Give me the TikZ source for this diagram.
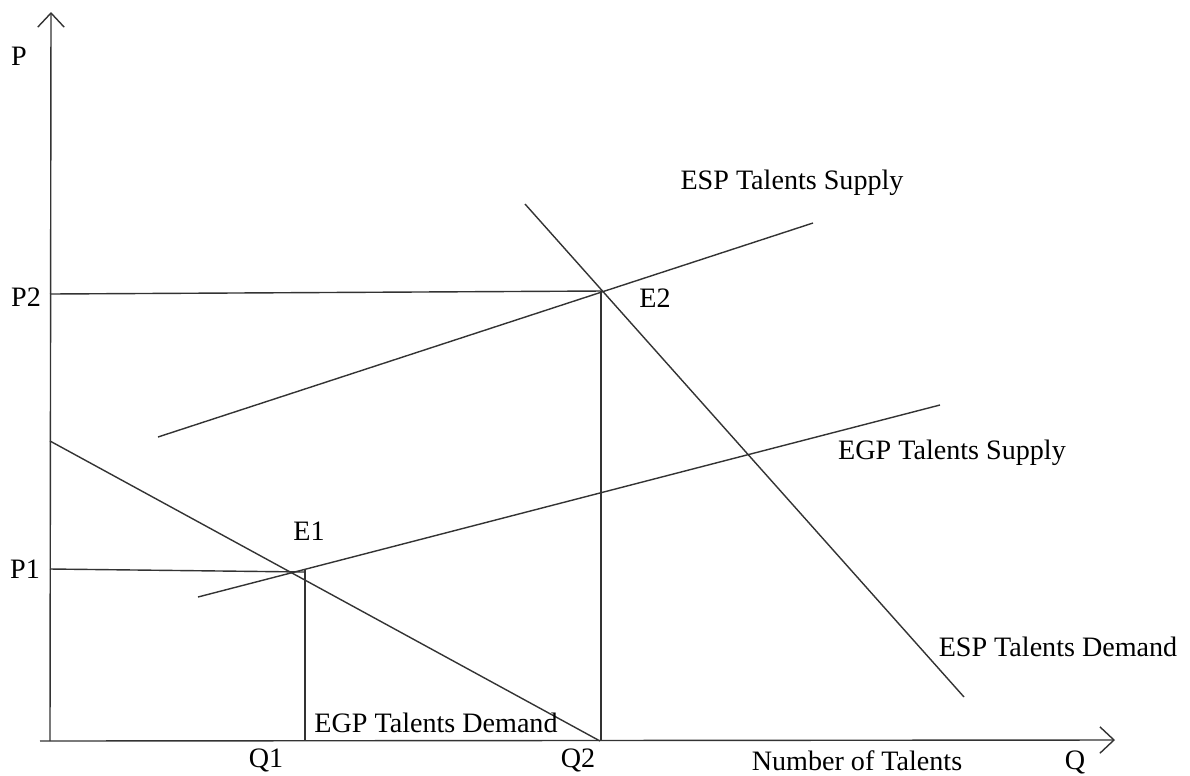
\documentclass[tikz,border=0pt]{standalone}
\usepackage{fontspec}
\setmainfont{Liberation Serif}
\usetikzlibrary{calc,positioning,arrows.meta}

\begin{document}
\begin{tikzpicture}[x=0.02cm,y=-0.02cm,
    curve/.style={draw=black!80,line width=0.8pt},
    axis/.style={curve,-{Straight Barb[length=8pt,width=15pt]}},
    lab/.style={font=\fontsize{16}{19}\selectfont,inner sep=0pt}]
    \useasboundingbox (0,0) rectangle (1190,775);

    % axes
    \coordinate (O) at (50,741);
    \coordinate (ytop) at (51,12);
    \coordinate (xend) at (1115,740);
    \draw[axis] (O) -- (ytop);
    \draw[axis] (40,741) -- (xend);

    % points
    \coordinate (E1) at (292,572);
    \coordinate (E2) at (603,291);
    \coordinate (p1) at (50,569);
    \coordinate (p2) at (50,294);
    \coordinate (q1) at (305,741);
    \coordinate (q2) at (601,741);

    % curves
    \draw[curve] (158,437) -- (813,223);
    \draw[curve] (525,204) -- (964,697);
    \draw[curve] (198,597) -- (940,405);
    \draw[curve] (50,441) -- (600,741);

    % guide lines
    \draw[curve] (p2) -- (E2);
    \draw[curve] (601,291) -- (q2);
    \draw[curve] (p1) -- (305,572);
    \draw[curve] (305,570) -- (q1);

    % labels
    \node[lab] (P) at (19,56) {P};
    \node[lab] (P2) at (26,297) {P2};
    \node[lab] (P1) at (25,569) {P1};
    \node[lab] (Q1) at (266,760) {Q1};
    \node[lab] (Q2) at (578,760) {Q2};
    \node[lab] (Q) at (1075,762) {Q};
    \node[lab] (num) at (857,761) {Number of Talents};
    \node[lab] (e1) at (309,531) {E1};
    \node[lab] (e2) at (655,298) {E2};
    \node[lab] (espS) at (792,183) {ESP Talents Supply};
    \node[lab] (egpS) at (952,453) {EGP Talents Supply};
    \node[lab] (espD) at (1058,647) {ESP Talents Demand};
    \node[lab] (egpD) at (436,723) {EGP Talents Demand};
\end{tikzpicture}
\end{document}
